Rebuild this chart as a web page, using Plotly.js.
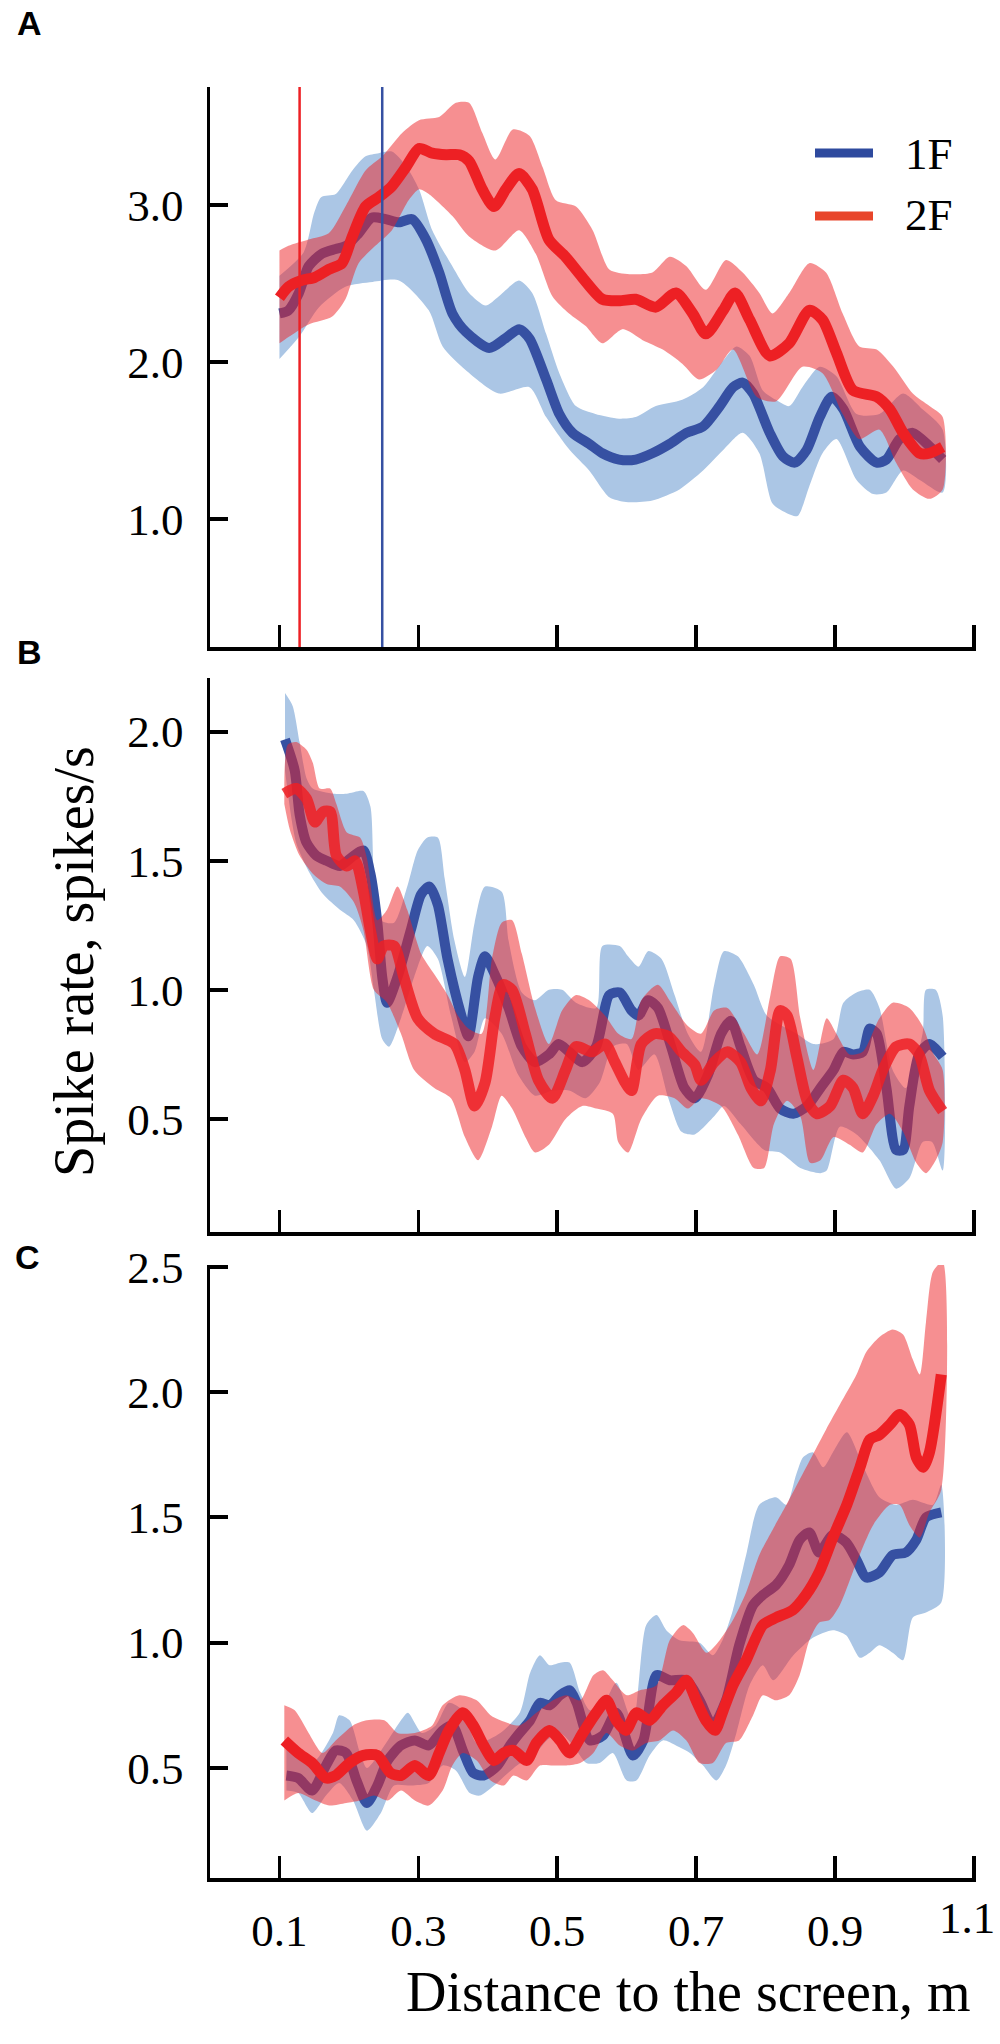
<!DOCTYPE html>
<html><head><meta charset="utf-8">
<script src="https://cdn.plot.ly/plotly-3.0.1.min.js"></script>
<style>html,body{margin:0;padding:0;background:#fff}#plot{width:1000px;height:2044px}</style>
</head><body><div id="plot"></div>
<script>
// ---------- Panel A ----------
const A_blue_x = [0.100,0.113,0.128,0.142,0.161,0.181,0.196,0.214,0.233,0.253,0.272,0.291,0.311,0.330,0.349,0.369,0.402,0.425,0.445,0.460,0.484,0.503,0.522,0.546,0.565,0.589,0.613,0.637,0.662,0.686,0.710,0.734,0.753,0.767,0.782,0.806,0.825,0.842,0.859,0.878,0.895,0.912,0.936,0.960,0.974,0.993,1.012,1.037,1.055];
const A_blue_y = [2.31,2.33,2.44,2.61,2.69,2.72,2.74,2.82,2.92,2.91,2.89,2.91,2.78,2.57,2.31,2.19,2.09,2.15,2.21,2.15,1.89,1.67,1.55,1.48,1.42,1.38,1.38,1.42,1.48,1.55,1.59,1.72,1.84,1.87,1.80,1.55,1.40,1.36,1.44,1.65,1.78,1.70,1.46,1.36,1.38,1.51,1.55,1.46,1.38];
const A_blueUp_x = [0.100,0.135,0.150,0.160,0.181,0.205,0.224,0.243,0.262,0.282,0.301,0.320,0.349,0.373,0.397,0.416,0.445,0.464,0.484,0.503,0.527,0.555,0.589,0.613,0.642,0.680,0.710,0.739,0.758,0.777,0.796,0.815,0.834,0.853,0.878,0.902,0.931,0.964,0.998,1.026,1.055];
const A_blueUp_y = [2.55,2.70,2.95,3.05,3.07,3.22,3.31,3.33,3.34,3.25,3.10,2.84,2.61,2.44,2.36,2.42,2.52,2.44,2.18,1.93,1.72,1.67,1.64,1.65,1.72,1.76,1.84,2.01,2.10,2.04,1.82,1.76,1.72,1.84,1.97,1.91,1.67,1.67,1.80,1.70,1.57];
const A_blueLo_x = [0.100,0.128,0.157,0.195,0.234,0.272,0.315,0.335,0.368,0.416,0.460,0.484,0.518,0.546,0.575,0.599,0.637,0.676,0.710,0.739,0.767,0.791,0.810,0.830,0.846,0.863,0.882,0.902,0.931,0.955,0.974,0.998,1.022,1.055];
const A_blueLo_y = [2.02,2.16,2.35,2.48,2.51,2.52,2.33,2.10,1.95,1.80,1.84,1.65,1.44,1.31,1.14,1.11,1.12,1.19,1.31,1.44,1.55,1.42,1.10,1.04,1.02,1.21,1.42,1.51,1.25,1.16,1.17,1.31,1.25,1.17];
const A_red_x = [0.100,0.113,0.132,0.151,0.171,0.190,0.205,0.224,0.243,0.262,0.282,0.301,0.320,0.340,0.359,0.373,0.392,0.409,0.426,0.445,0.464,0.488,0.512,0.536,0.565,0.589,0.613,0.642,0.671,0.695,0.714,0.739,0.756,0.777,0.806,0.834,0.863,0.882,0.902,0.926,0.960,0.979,0.998,1.022,1.036,1.055];
const A_red_y = [2.41,2.48,2.52,2.54,2.59,2.63,2.80,2.99,3.05,3.12,3.24,3.36,3.33,3.32,3.32,3.28,3.10,2.99,3.10,3.20,3.10,2.78,2.67,2.54,2.40,2.39,2.40,2.35,2.44,2.31,2.18,2.33,2.44,2.27,2.04,2.12,2.33,2.27,2.06,1.82,1.78,1.70,1.55,1.42,1.42,1.46];
const A_redUp_x = [0.100,0.113,0.142,0.171,0.195,0.224,0.248,0.277,0.301,0.330,0.354,0.373,0.392,0.411,0.436,0.460,0.479,0.498,0.527,0.551,0.575,0.604,0.637,0.662,0.686,0.714,0.743,0.767,0.791,0.810,0.834,0.863,0.887,0.911,0.935,0.960,0.984,1.012,1.036,1.055];
const A_redUp_y = [2.71,2.74,2.78,2.82,2.99,3.22,3.31,3.46,3.54,3.56,3.65,3.65,3.46,3.29,3.48,3.44,3.24,3.03,2.99,2.84,2.59,2.56,2.57,2.67,2.61,2.46,2.65,2.57,2.44,2.31,2.44,2.63,2.57,2.31,2.10,2.08,1.97,1.80,1.72,1.65];
const A_redLo_x = [0.100,0.113,0.142,0.176,0.195,0.214,0.238,0.262,0.286,0.301,0.315,0.349,0.373,0.411,0.445,0.469,0.493,0.517,0.541,0.565,0.594,0.623,0.652,0.680,0.704,0.729,0.753,0.787,0.815,0.853,0.882,0.911,0.935,0.964,0.988,1.012,1.036,1.055];
const A_redLo_y = [2.12,2.16,2.24,2.29,2.40,2.63,2.74,2.84,3.03,3.10,3.07,2.93,2.80,2.71,2.84,2.69,2.42,2.31,2.23,2.12,2.21,2.14,2.08,1.99,1.89,1.95,2.08,1.78,1.75,1.97,1.93,1.67,1.51,1.57,1.36,1.19,1.13,1.19];
const A_vline_x = [0.129, 0.248];   // 2F (red), 1F (blue)

// ---------- Panel B ----------
const B_blue_x = [0.108,0.122,0.129,0.139,0.153,0.168,0.187,0.207,0.221,0.231,0.241,0.248,0.255,0.270,0.289,0.304,0.316,0.328,0.342,0.362,0.372,0.386,0.396,0.410,0.430,0.449,0.468,0.488,0.502,0.517,0.536,0.556,0.575,0.590,0.607,0.617,0.631,0.645,0.664,0.683,0.698,0.717,0.736,0.750,0.764,0.783,0.802,0.821,0.840,0.860,0.879,0.898,0.912,0.926,0.940,0.950,0.960,0.974,0.988,0.998,1.007,1.021,1.036,1.055];
const B_blue_y = [1.97,1.85,1.68,1.57,1.52,1.50,1.48,1.52,1.54,1.45,1.26,1.05,0.95,1.05,1.23,1.37,1.40,1.33,1.12,0.90,0.82,1.05,1.13,1.06,0.93,0.78,0.72,0.75,0.79,0.76,0.72,0.78,0.98,0.99,0.92,0.90,0.96,0.93,0.78,0.62,0.58,0.67,0.83,0.88,0.78,0.65,0.62,0.54,0.52,0.55,0.62,0.69,0.76,0.75,0.76,0.85,0.83,0.62,0.38,0.38,0.55,0.75,0.79,0.74];
const B_blueUp_x = [0.108,0.119,0.129,0.139,0.148,0.178,0.197,0.221,0.231,0.236,0.246,0.265,0.284,0.299,0.313,0.328,0.338,0.352,0.367,0.381,0.396,0.420,0.430,0.449,0.468,0.488,0.507,0.527,0.556,0.565,0.590,0.602,0.617,0.631,0.650,0.669,0.688,0.707,0.726,0.740,0.760,0.783,0.802,0.845,0.869,0.898,0.912,0.931,0.950,0.964,0.983,1.002,1.026,1.031,1.045,1.055];
const B_blueUp_y = [2.15,2.10,1.96,1.82,1.78,1.76,1.76,1.77,1.71,1.45,1.27,1.26,1.40,1.54,1.59,1.59,1.43,1.19,1.05,1.26,1.40,1.38,1.19,0.99,0.96,1.00,1.00,0.95,0.93,1.17,1.17,1.13,1.09,1.15,1.12,0.98,0.83,0.76,1.02,1.15,1.13,1.02,0.90,0.83,0.79,0.81,0.95,0.99,1.00,0.93,0.69,0.62,0.83,1.00,1.00,0.90];
const B_blueLo_x = [0.108,0.124,0.144,0.163,0.187,0.207,0.226,0.236,0.248,0.258,0.275,0.294,0.313,0.328,0.347,0.367,0.381,0.396,0.420,0.444,0.468,0.493,0.517,0.541,0.561,0.580,0.600,0.617,0.640,0.660,0.679,0.698,0.726,0.740,0.764,0.798,0.821,0.850,0.879,0.888,0.907,0.931,0.964,0.988,1.007,1.026,1.040,1.055];
const B_blueLo_y = [1.85,1.57,1.45,1.37,1.31,1.27,1.17,1.00,0.81,0.78,0.89,1.05,1.17,1.12,0.90,0.72,0.76,0.89,0.83,0.67,0.59,0.61,0.61,0.58,0.64,0.78,0.79,0.69,0.75,0.58,0.45,0.44,0.51,0.55,0.48,0.38,0.37,0.31,0.29,0.30,0.47,0.44,0.34,0.23,0.27,0.41,0.41,0.30];
const B_red_x = [0.107,0.124,0.139,0.151,0.163,0.173,0.182,0.197,0.209,0.221,0.231,0.241,0.250,0.265,0.279,0.299,0.323,0.352,0.367,0.381,0.396,0.410,0.422,0.435,0.454,0.473,0.493,0.512,0.527,0.550,0.569,0.583,0.598,0.607,0.621,0.640,0.660,0.679,0.698,0.707,0.726,0.745,0.764,0.779,0.793,0.807,0.821,0.831,0.845,0.860,0.874,0.893,0.912,0.926,0.940,0.955,0.969,0.988,1.007,1.021,1.036,1.055];
const B_red_y = [1.76,1.78,1.74,1.65,1.69,1.69,1.52,1.48,1.50,1.38,1.23,1.12,1.17,1.17,1.05,0.89,0.83,0.79,0.69,0.55,0.64,0.89,1.02,1.00,0.83,0.65,0.58,0.69,0.78,0.76,0.79,0.72,0.64,0.61,0.79,0.83,0.82,0.76,0.71,0.65,0.72,0.76,0.72,0.62,0.57,0.69,0.92,0.90,0.74,0.57,0.52,0.55,0.65,0.62,0.52,0.59,0.69,0.78,0.79,0.75,0.61,0.53];
const B_redUp_x = [0.107,0.112,0.124,0.139,0.148,0.158,0.173,0.182,0.197,0.216,0.226,0.241,0.255,0.270,0.284,0.304,0.323,0.342,0.357,0.372,0.391,0.406,0.420,0.435,0.449,0.468,0.488,0.507,0.527,0.546,0.569,0.588,0.607,0.621,0.645,0.664,0.688,0.707,0.726,0.745,0.769,0.788,0.807,0.821,0.836,0.850,0.869,0.888,0.902,0.921,0.940,0.964,0.983,1.007,1.026,1.040,1.055];
const B_redUp_y = [1.80,1.95,1.96,1.93,1.88,1.78,1.78,1.72,1.61,1.59,1.51,1.27,1.31,1.40,1.31,1.14,1.06,0.98,0.90,0.85,0.83,1.12,1.26,1.27,1.14,0.93,0.79,0.92,0.98,0.96,0.90,0.83,0.81,0.96,1.02,0.95,0.86,0.83,0.92,0.93,0.83,0.75,0.98,1.13,1.12,0.89,0.69,0.89,0.83,0.75,0.76,0.89,0.95,0.93,0.86,0.76,0.69];
const B_redLo_x = [0.107,0.115,0.129,0.148,0.168,0.187,0.207,0.221,0.236,0.255,0.275,0.294,0.323,0.347,0.367,0.386,0.406,0.420,0.435,0.454,0.468,0.488,0.512,0.536,0.556,0.580,0.588,0.602,0.621,0.645,0.669,0.688,0.707,0.736,0.760,0.783,0.798,0.812,0.831,0.850,0.864,0.879,0.898,0.921,0.940,0.960,0.979,0.998,1.017,1.031,1.045,1.055];
const B_redLo_y = [1.72,1.62,1.52,1.45,1.41,1.40,1.34,1.23,1.00,0.95,0.83,0.69,0.62,0.58,0.43,0.34,0.47,0.59,0.54,0.43,0.37,0.40,0.50,0.55,0.54,0.52,0.41,0.37,0.50,0.59,0.58,0.54,0.58,0.55,0.44,0.31,0.31,0.48,0.57,0.51,0.33,0.34,0.43,0.40,0.37,0.48,0.52,0.45,0.33,0.29,0.34,0.41];

// ---------- Panel C ----------
const C_blue_x = [0.110,0.127,0.147,0.167,0.181,0.196,0.211,0.226,0.241,0.256,0.275,0.295,0.315,0.335,0.349,0.364,0.379,0.394,0.414,0.432,0.446,0.461,0.475,0.489,0.504,0.518,0.528,0.547,0.566,0.585,0.609,0.624,0.643,0.662,0.686,0.705,0.724,0.743,0.762,0.782,0.796,0.815,0.834,0.849,0.863,0.877,0.897,0.916,0.931,0.945,0.964,0.983,1.002,1.017,1.031,1.053];
const C_blue_y = [0.47,0.46,0.41,0.51,0.57,0.56,0.45,0.36,0.43,0.53,0.59,0.61,0.59,0.65,0.67,0.57,0.48,0.47,0.51,0.59,0.64,0.69,0.76,0.75,0.79,0.81,0.76,0.61,0.63,0.72,0.55,0.61,0.87,0.85,0.85,0.77,0.67,0.77,0.99,1.15,1.19,1.23,1.31,1.41,1.44,1.36,1.43,1.40,1.33,1.26,1.28,1.35,1.36,1.41,1.50,1.52];
const C_blueUp_x = [0.110,0.147,0.177,0.186,0.201,0.216,0.226,0.256,0.275,0.285,0.305,0.325,0.344,0.364,0.384,0.418,0.446,0.461,0.475,0.489,0.504,0.518,0.533,0.547,0.566,0.585,0.609,0.628,0.643,0.657,0.676,0.705,0.724,0.738,0.753,0.772,0.791,0.815,0.830,0.844,0.854,0.868,0.883,0.897,0.917,0.941,0.964,0.988,1.012,1.041,1.053];
const C_blueUp_y = [0.59,0.52,0.64,0.71,0.69,0.56,0.50,0.61,0.69,0.72,0.64,0.67,0.76,0.73,0.60,0.64,0.72,0.88,0.95,0.91,0.92,0.92,0.80,0.73,0.75,0.84,0.68,1.07,1.11,1.05,1.01,1.00,0.95,1.01,1.13,1.35,1.55,1.58,1.55,1.67,1.74,1.76,1.70,1.76,1.84,1.70,1.58,1.55,1.57,1.55,1.63];
const C_blueLo_x = [0.110,0.127,0.147,0.167,0.186,0.206,0.226,0.246,0.265,0.290,0.315,0.335,0.354,0.374,0.389,0.409,0.442,0.466,0.485,0.504,0.523,0.542,0.561,0.580,0.600,0.614,0.633,0.652,0.671,0.691,0.710,0.729,0.743,0.758,0.777,0.796,0.811,0.840,0.868,0.897,0.916,0.936,0.950,0.964,0.983,0.998,1.012,1.031,1.053];
const C_blueLo_y = [0.41,0.40,0.32,0.39,0.44,0.37,0.25,0.32,0.43,0.43,0.44,0.51,0.49,0.40,0.39,0.43,0.51,0.55,0.61,0.64,0.59,0.52,0.52,0.56,0.45,0.45,0.55,0.61,0.59,0.56,0.51,0.45,0.51,0.64,0.83,0.91,0.85,0.95,1.02,1.05,1.03,0.94,0.96,0.99,0.96,0.93,1.10,1.12,1.16];
const C_red_x = [0.107,0.127,0.147,0.167,0.181,0.201,0.221,0.241,0.260,0.275,0.295,0.315,0.330,0.344,0.364,0.379,0.394,0.409,0.423,0.437,0.456,0.470,0.489,0.504,0.518,0.537,0.556,0.571,0.585,0.599,0.614,0.633,0.652,0.671,0.686,0.700,0.714,0.727,0.739,0.753,0.772,0.796,0.815,0.839,0.858,0.877,0.897,0.917,0.936,0.950,0.964,0.979,0.993,1.007,1.017,1.027,1.036,1.053];
const C_red_y = [0.61,0.56,0.52,0.46,0.47,0.52,0.55,0.55,0.48,0.47,0.51,0.47,0.56,0.65,0.72,0.67,0.59,0.53,0.56,0.57,0.53,0.60,0.65,0.61,0.56,0.64,0.72,0.77,0.69,0.65,0.72,0.69,0.75,0.80,0.85,0.77,0.69,0.65,0.73,0.83,0.93,1.07,1.10,1.13,1.19,1.28,1.42,1.55,1.70,1.81,1.83,1.87,1.91,1.87,1.74,1.70,1.76,2.07];
const C_redUp_x = [0.107,0.122,0.142,0.162,0.181,0.206,0.226,0.251,0.270,0.295,0.320,0.335,0.359,0.384,0.404,0.418,0.446,0.470,0.494,0.513,0.533,0.552,0.566,0.580,0.600,0.619,0.643,0.662,0.681,0.695,0.715,0.734,0.753,0.772,0.791,0.810,0.830,0.849,0.868,0.887,0.907,0.931,0.945,0.964,0.983,0.998,1.012,1.022,1.031,1.041,1.055];
const C_redUp_y = [0.75,0.73,0.64,0.56,0.61,0.67,0.69,0.69,0.64,0.64,0.67,0.75,0.79,0.77,0.71,0.69,0.67,0.72,0.77,0.79,0.77,0.87,0.89,0.85,0.79,0.81,0.83,1.01,1.07,1.04,0.96,1.01,1.09,1.20,1.35,1.45,1.55,1.65,1.75,1.85,1.95,2.07,2.16,2.22,2.25,2.23,2.13,2.07,2.28,2.48,2.52];
const C_redLo_x = [0.107,0.127,0.152,0.172,0.196,0.216,0.236,0.256,0.275,0.295,0.315,0.335,0.349,0.364,0.384,0.404,0.423,0.437,0.456,0.475,0.494,0.513,0.533,0.552,0.571,0.590,0.609,0.628,0.647,0.667,0.686,0.705,0.724,0.743,0.762,0.782,0.796,0.815,0.834,0.849,0.863,0.877,0.892,0.907,0.931,0.955,0.979,0.993,1.007,1.022,1.036,1.053];
const C_redLo_y = [0.37,0.40,0.37,0.35,0.36,0.37,0.39,0.37,0.41,0.37,0.35,0.41,0.51,0.56,0.53,0.45,0.43,0.47,0.45,0.51,0.51,0.51,0.52,0.56,0.64,0.59,0.57,0.60,0.61,0.65,0.61,0.52,0.52,0.60,0.61,0.71,0.79,0.77,0.79,0.87,1.01,1.08,1.09,1.15,1.32,1.47,1.55,1.55,1.47,1.42,1.52,1.61];

// ---------- axes / labels ----------
const xTicks = [0.1,0.3,0.5,0.7,0.9,1.1];
const xTickText = ['0.1','0.3','0.5','0.7','0.9','1.1'];
const A_yTicks = [1,2,3], A_yText = ['1.0','2.0','3.0'];
const B_yTicks = [0.5,1,1.5,2], B_yText = ['0.5','1.0','1.5','2.0'];
const C_yTicks = [0.5,1,1.5,2,2.5], C_yText = ['0.5','1.0','1.5','2.0','2.5'];
const seriesNames = ['1F','2F'];

// ---------- styling ----------
const BLUE = '#3650a2', BLUE_BAND = '#abc6e5';
const RED = '#ed2024', RED_BAND = 'rgba(237,32,36,0.5)';
const LEG_RED = '#e8452a';
const SERIF = 'Liberation Serif, Times New Roman, serif';

const X_MAX = 1.103;
const L = 210, R = 24, T = 87, Bm = 166, FW = 1000, FH = 2044;
const W = FW - L - R, H = FH - T - Bm;
const px = p => (p - L) / W;
const py = p => (FH - Bm - p) / H;
const DOMS = [[py(647), 1], [py(1232), py(678)], [0, py(1265)]];

function band(ux, uy, lx, ly, color, xa, ya) {
  return {x: ux.concat(lx.slice().reverse()), y: uy.concat(ly.slice().reverse()),
    type: 'scatter', mode: 'lines', fill: 'toself', fillcolor: color,
    line: {width: 0, shape: 'spline', smoothing: 0.7}, xaxis: xa, yaxis: ya,
    showlegend: false, hoverinfo: 'skip'};
}
function mean(x, y, color, w, xa, ya, op) {
  return {x: x, y: y, type: 'scatter', mode: 'lines',
    line: {color: color, width: w, shape: 'spline', smoothing: 0.7},
    opacity: op || 1, xaxis: xa, yaxis: ya, showlegend: false, hoverinfo: 'skip'};
}

const traces = [
  band(A_blueUp_x, A_blueUp_y, A_blueLo_x, A_blueLo_y, BLUE_BAND, 'x', 'y'),
  mean(A_blue_x, A_blue_y, BLUE, 10, 'x', 'y'),
  band(A_redUp_x, A_redUp_y, A_redLo_x, A_redLo_y, RED_BAND, 'x', 'y'),
  mean(A_red_x, A_red_y, RED, 11, 'x', 'y'),
  band(B_blueUp_x, B_blueUp_y, B_blueLo_x, B_blueLo_y, BLUE_BAND, 'x2', 'y2'),
  mean(B_blue_x, B_blue_y, BLUE, 10, 'x2', 'y2'),
  band(B_redUp_x, B_redUp_y, B_redLo_x, B_redLo_y, RED_BAND, 'x2', 'y2'),
  mean(B_red_x, B_red_y, RED, 11, 'x2', 'y2', 0.85),
  band(C_blueUp_x, C_blueUp_y, C_blueLo_x, C_blueLo_y, BLUE_BAND, 'x3', 'y3'),
  mean(C_blue_x, C_blue_y, BLUE, 10, 'x3', 'y3'),
  band(C_redUp_x, C_redUp_y, C_redLo_x, C_redLo_y, RED_BAND, 'x3', 'y3'),
  mean(C_red_x, C_red_y, RED, 11, 'x3', 'y3')
];

// the last label (1.1) sits at the very right edge: it is drawn as a right-aligned annotation
const axisTickText = xTickText.slice(0, 5).concat(['']);
function xAxis(anchor, labels) {
  return {domain: [0, 1], anchor: anchor, range: [0, X_MAX], showgrid: false, zeroline: false,
    showline: true, linecolor: '#000', linewidth: 3.5, ticks: 'inside', ticklen: 22, tickwidth: 3.5,
    tickcolor: '#000', tickmode: 'array', tickvals: xTicks, ticktext: axisTickText,
    showticklabels: labels, ticklabelstandoff: 10,
    tickfont: {family: SERIF, size: 45, color: '#000'}};
}
function yAxis(anchor, dom, rng, tv, tt) {
  return {domain: dom, anchor: anchor, range: rng, showgrid: false, zeroline: false,
    showline: true, linecolor: '#000', linewidth: 3.5, ticks: 'inside', ticklen: 18, tickwidth: 4,
    tickcolor: '#000', tickmode: 'array', tickvals: tv, ticktext: tt, ticklabelstandoff: 14,
    tickfont: {family: SERIF, size: 45, color: '#000'}};
}

const ann = [];
function label(t, cx, cy, font, extra) {
  ann.push(Object.assign({text: t, xref: 'paper', yref: 'paper', x: px(cx), y: py(cy),
    xanchor: 'center', yanchor: 'middle', showarrow: false, font: font}, extra || {}));
}
const bold = {family: 'Liberation Sans, Arial, sans-serif', size: 34, color: '#000'};
label('<b>A</b>', 29, 23, bold);
label('<b>B</b>', 29, 652, bold);
label('<b>C</b>', 27, 1257, bold);
label('Distance to the screen, m', 972, 1992, {family: SERIF, size: 56, color: '#000'}, {xanchor: 'right'});
label('Spike rate, spikes/s', 74, 962, {family: SERIF, size: 56, color: '#000'}, {textangle: -90});
label(seriesNames[0], 903, 154, {family: SERIF, size: 45, color: '#000'}, {xanchor: 'left'});
label(seriesNames[1], 903, 215, {family: SERIF, size: 45, color: '#000'}, {xanchor: 'left'});
label(xTickText[5], 997, 1918, {family: SERIF, size: 45, color: '#000'}, {xanchor: 'right'});

const shapes = [
  {type: 'line', xref: 'x', yref: 'y domain', x0: A_vline_x[0], x1: A_vline_x[0], y0: 0, y1: 1, line: {color: RED, width: 2.5}},
  {type: 'line', xref: 'x', yref: 'y domain', x0: A_vline_x[1], x1: A_vline_x[1], y0: 0, y1: 1, line: {color: BLUE, width: 2.5}},
  {type: 'line', xref: 'paper', yref: 'paper', x0: px(815), x1: px(873), y0: py(153), y1: py(153), line: {color: '#2e4a9e', width: 9}},
  {type: 'line', xref: 'paper', yref: 'paper', x0: px(815), x1: px(873), y0: py(216), y1: py(216), line: {color: LEG_RED, width: 9}}
];
// edge tick at 1.1 on every panel, placed in paper units from the axis scale
const xEnd = xTicks[5] / X_MAX;
DOMS.forEach(function (d) {
  shapes.push({type: 'line', xref: 'paper', yref: 'paper', x0: xEnd, x1: xEnd,
    y0: d[0], y1: d[0] + 22 / H, line: {color: '#000', width: 3.5}});
});

const layout = {
  width: FW, height: FH, margin: {l: L, r: R, t: T, b: Bm, pad: 0},
  paper_bgcolor: '#fff', plot_bgcolor: '#fff', showlegend: false,
  xaxis: xAxis('y', false), xaxis2: xAxis('y2', false), xaxis3: xAxis('y3', true),
  yaxis: yAxis('x', DOMS[0], [0.187, 3.751], A_yTicks, A_yText),
  yaxis2: yAxis('x2', DOMS[1], [0.062, 2.208], B_yTicks, B_yText),
  yaxis3: yAxis('x3', DOMS[2], [0.061, 2.507], C_yTicks, C_yText),
  annotations: ann, shapes: shapes
};
Plotly.newPlot('plot', traces, layout, {staticPlot: true});
</script></body></html>
